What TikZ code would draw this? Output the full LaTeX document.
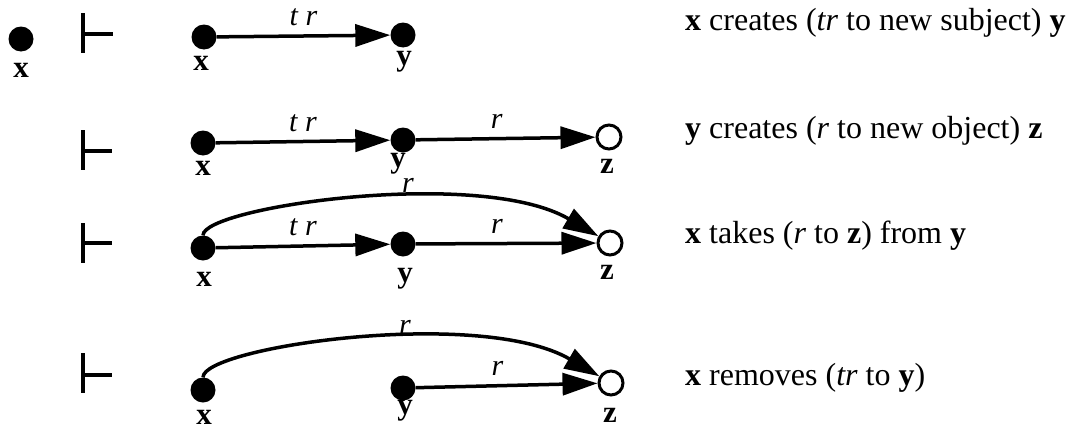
\documentclass[tikz,border=0pt]{standalone}
\usepackage{fontspec}
\setmainfont{Liberation Serif}
\usetikzlibrary{arrows.meta}
\begin{document}
\begin{tikzpicture}[x=1pt,y=-1pt,
  dot/.style={circle,fill=black,inner sep=0pt,minimum size=25pt},
  hollow/.style={circle,draw=black,fill=white,line width=3pt,inner sep=0pt,minimum size=24pt},
  edge/.style={line width=3.5pt,-{Triangle[length=35pt,width=22pt]}},
  lbl/.style={font=\fontsize{31}{33}\selectfont\bfseries,inner sep=0pt},
  elbl/.style={font=\fontsize{30}{32}\selectfont\itshape,inner sep=0pt},
  desc/.style={font=\fontsize{32}{36}\selectfont,anchor=base west,inner sep=0pt},
  turn/.style={line width=4pt}]
\useasboundingbox (0,0) rectangle (1073,431);

% initial state
\node[dot] (x0) at (21,39) {};
\node[lbl] (lx0) at (21,70) {x};

% turnstiles
\draw[turn] (83,13) -- (83,53) (83,34) -- (113,34);
\draw[turn] (83,130) -- (83,170) (83,151) -- (112,151);
\draw[turn] (83,223) -- (83,263) (83,243) -- (112,243);
\draw[turn] (83,353) -- (83,393) (83,375) -- (112,375);

% row 1
\node[dot] (x1) at (204,37) {};
\node[dot] (y1) at (403,35) {};
\node[lbl] (lx1) at (201,63) {x};
\node[lbl] (ly1) at (404,62) {y};
\draw[edge] (x1) -- (y1) node[elbl,pos=0.5,above=8pt] (e1) {t r};
\node[desc] (d1) at (685,30) {\textbf{x} creates (\textit{tr} to new subject) \textbf{y}};

% row 2
\node[dot] (x2) at (203,143) {};
\node[dot] (y2) at (403,140) {};
\node[hollow] (z2) at (609,137) {};
\node[lbl] (lx2) at (203,168) {x};
\node[lbl] (ly2) at (398,164) {y};
\node[lbl] (lz2) at (607,166) {z};
\draw[edge] (x2) -- (y2) node[elbl,pos=0.5,above=8pt] (e2) {t r};
\draw[edge] (y2) -- (z2) node[elbl,pos=0.45,above=8pt] (e3) {r};
\node[desc] (d2) at (685,138) {\textbf{y} creates (\textit{r} to new object) \textbf{z}};

% row 3
\node[dot] (x3) at (203,248) {};
\node[dot] (y3) at (403,244) {};
\node[hollow] (z3) at (610,243) {};
\node[lbl] (lx3) at (204,279) {x};
\node[lbl] (ly3) at (405,279) {y};
\node[lbl] (lz3) at (607,272) {z};
\draw[edge] (x3) -- (y3) node[elbl,pos=0.5,above=8pt] (e4) {t r};
\draw[edge] (y3) -- (z3) node[elbl,pos=0.45,above=8pt] (e5) {r};
\draw[edge] (x3) .. controls (203,207) and (480,167) .. (z3);
\node[elbl] (e6) at (408,185) {r};
\node[desc] (d3) at (685,243) {\textbf{x} takes (\textit{r} to \textbf{z}) from \textbf{y}};

% row 4
\node[dot] (x4) at (203,390) {};
\node[dot] (y4) at (403,388) {};
\node[hollow] (z4) at (611,383) {};
\node[lbl] (lx4) at (204,417) {x};
\node[lbl] (ly4) at (405,411) {y};
\node[lbl] (lz4) at (610,415) {z};
\draw[edge] (y4) -- (z4) node[elbl,pos=0.45,above=8pt] (e7) {r};
\draw[edge] (x4) .. controls (203,347) and (480,307) .. (z4);
\node[elbl] (e8) at (405,327) {r};
\node[desc] (d4) at (685,385) {\textbf{x} removes (\textit{tr} to \textbf{y})};
\end{tikzpicture}
\end{document}
